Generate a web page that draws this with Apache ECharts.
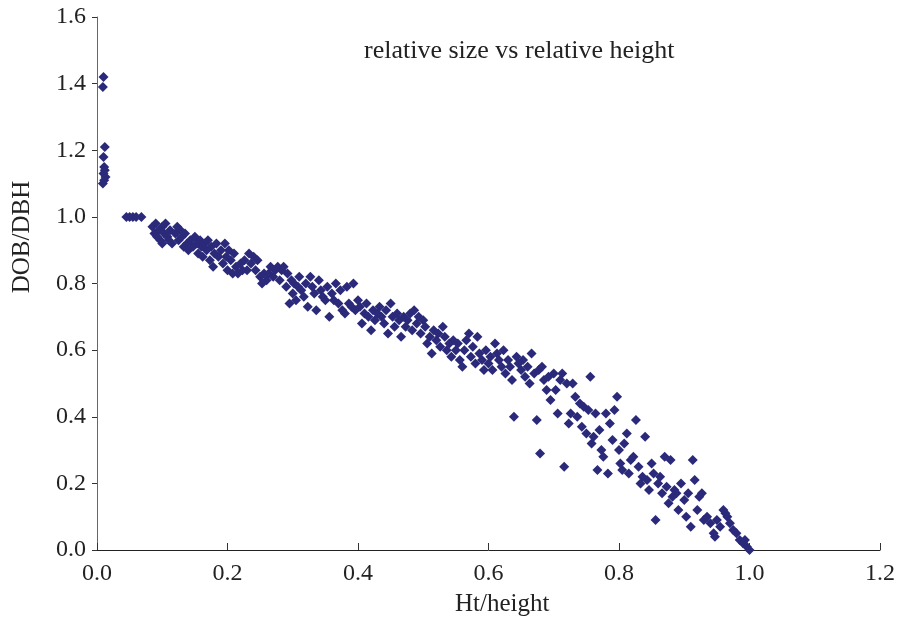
<!DOCTYPE html>
<html>
<head>
<meta charset="utf-8">
<script src="https://cdn.jsdelivr.net/npm/echarts@6/dist/echarts.min.js"></script>
<style>html,body{margin:0;padding:0;background:#fff}#c{width:904px;height:625px}</style>
</head>
<body>
<div id="c"></div>
<script>
var xTicks = [0.0, 0.2, 0.4, 0.6, 0.8, 1.0, 1.2];
var yTicks = [0.0, 0.2, 0.4, 0.6, 0.8, 1.0, 1.2, 1.4, 1.6];
var titleText = 'relative size vs relative height';
var xName = 'Ht/height';
var yName = 'DOB/DBH';

var tipPoints = [[0.010,1.42],[0.009,1.39],[0.012,1.21],[0.010,1.18],[0.011,1.15],[0.012,1.14],[0.010,1.13],[0.013,1.12],[0.011,1.11],[0.009,1.10]];
var basePoints = [[0.045,1.0],[0.05,1.0],[0.055,1.0],[0.06,1.0],[0.068,1.0]];
var lowerStem = [
[0.085,0.97],[0.088,0.95],[0.09,0.98],[0.092,0.94],[0.095,0.96],[0.097,0.93],[0.10,0.97],[0.10,0.92],[0.103,0.95],[0.105,0.98],[0.108,0.94],[0.11,0.93],[0.112,0.96],[0.115,0.92],
[0.12,0.95],[0.123,0.97],[0.125,0.93],[0.128,0.96],[0.13,0.94],[0.133,0.91],[0.135,0.95],[0.138,0.92],[0.14,0.90],[0.143,0.93],[0.147,0.91],[0.15,0.94],[0.153,0.92],[0.155,0.89],[0.158,0.93],
[0.16,0.91],[0.162,0.88],[0.165,0.92],[0.168,0.90],[0.17,0.93],[0.173,0.87],[0.175,0.91],[0.178,0.85],[0.18,0.89],[0.183,0.92],[0.186,0.88],[0.19,0.90],[0.193,0.86],[0.196,0.92],[0.198,0.88],
[0.20,0.84],[0.202,0.90],[0.205,0.87],[0.208,0.83],[0.21,0.89],[0.213,0.85],[0.216,0.83],[0.22,0.86],[0.223,0.84],[0.226,0.87],[0.23,0.84],[0.233,0.89],[0.236,0.86],[0.24,0.88],[0.243,0.84],[0.246,0.87],[0.25,0.82],[0.253,0.80],[0.256,0.83]
];
var midStem = [
[0.26,0.81],[0.263,0.83],[0.266,0.85],[0.27,0.82],[0.273,0.84],[0.277,0.85],[0.28,0.81],[0.283,0.84],[0.286,0.85],[0.29,0.79],[0.292,0.83],[0.295,0.74],[0.298,0.81],[0.30,0.77],
[0.302,0.80],[0.305,0.75],[0.308,0.79],[0.31,0.82],[0.313,0.78],[0.317,0.76],[0.32,0.80],[0.323,0.73],[0.327,0.82],[0.33,0.79],[0.333,0.77],[0.336,0.72],[0.34,0.81],[0.343,0.78],[0.346,0.76],[0.35,0.75],
[0.353,0.79],[0.356,0.70],[0.36,0.77],[0.363,0.75],[0.366,0.80],[0.37,0.74],[0.373,0.78],[0.376,0.72],[0.38,0.71],[0.383,0.79],[0.386,0.74],[0.39,0.73],[0.393,0.80],[0.396,0.72],[0.40,0.75],
[0.403,0.73],[0.406,0.68],[0.41,0.71],[0.413,0.74],[0.416,0.70],[0.42,0.66],[0.423,0.72],[0.426,0.69],[0.43,0.71],[0.433,0.73],[0.436,0.70],[0.44,0.68],[0.443,0.72],[0.446,0.65],[0.45,0.74],
[0.453,0.70],[0.456,0.67],[0.46,0.71],[0.463,0.69],[0.466,0.64],[0.47,0.70],[0.473,0.67],[0.476,0.69],[0.48,0.71],[0.483,0.66],[0.486,0.72],[0.49,0.68],[0.493,0.70],[0.496,0.65],[0.50,0.69]
];
var upperStem = [
[0.503,0.67],[0.506,0.62],[0.51,0.64],[0.513,0.59],[0.516,0.66],[0.52,0.63],[0.523,0.65],[0.526,0.61],[0.53,0.67],[0.533,0.64],[0.536,0.60],[0.54,0.62],[0.543,0.58],[0.546,0.63],[0.55,0.60],
[0.553,0.62],[0.556,0.57],[0.56,0.55],[0.563,0.60],[0.566,0.63],[0.57,0.65],[0.573,0.58],[0.576,0.61],[0.58,0.56],[0.583,0.64],[0.586,0.59],[0.59,0.57],[0.593,0.54],[0.596,0.60],[0.60,0.56],
[0.603,0.58],[0.606,0.54],[0.61,0.62],[0.613,0.59],[0.616,0.57],[0.62,0.55],[0.623,0.60],[0.626,0.53],[0.63,0.57],[0.633,0.55],[0.636,0.51],[0.639,0.40],[0.643,0.58],[0.646,0.56],[0.65,0.54],
[0.653,0.57],[0.656,0.52],[0.66,0.55],[0.663,0.50],[0.666,0.59],[0.67,0.53],[0.674,0.39],[0.677,0.54],[0.679,0.29],[0.682,0.55],[0.685,0.51],[0.689,0.48],[0.692,0.52],[0.695,0.45],[0.70,0.53]
];
var crown = [
[0.703,0.48],[0.706,0.41],[0.71,0.51],[0.713,0.53],[0.716,0.25],[0.72,0.50],[0.723,0.38],[0.726,0.41],[0.729,0.50],[0.733,0.46],[0.736,0.40],[0.74,0.44],[0.743,0.37],[0.746,0.43],[0.75,0.35],
[0.753,0.42],[0.756,0.52],[0.758,0.32],[0.761,0.34],[0.764,0.41],[0.767,0.24],[0.77,0.36],[0.773,0.30],[0.776,0.28],[0.78,0.41],[0.783,0.23],[0.786,0.38],[0.79,0.33],[0.793,0.42],[0.797,0.46],[0.80,0.30],
[0.802,0.26],[0.805,0.24],[0.808,0.32],[0.812,0.35],[0.815,0.23],[0.818,0.27],[0.822,0.28],[0.826,0.39],[0.83,0.25],[0.833,0.20],[0.836,0.22],[0.84,0.34],[0.843,0.21],[0.846,0.18],[0.85,0.26],
[0.853,0.23],[0.856,0.09],[0.86,0.20],[0.863,0.22],[0.866,0.17],[0.87,0.28],[0.873,0.19],[0.876,0.14],[0.879,0.27],[0.882,0.16],[0.885,0.18],[0.888,0.17],[0.891,0.12],[0.895,0.20],[0.90,0.15],
[0.903,0.10],[0.906,0.17],[0.91,0.07],[0.913,0.27],[0.916,0.21],[0.92,0.12],[0.923,0.16],[0.927,0.17],[0.93,0.09],[0.935,0.10],[0.94,0.08],[0.945,0.05],[0.947,0.04],
[0.95,0.09],[0.955,0.07],[0.96,0.12],[0.963,0.11],[0.966,0.10],[0.97,0.08],[0.975,0.06],[0.98,0.05],[0.985,0.03],[0.99,0.02],[0.993,0.03],[0.996,0.01],[1.0,0.0]
];

var allPoints = tipPoints.concat(basePoints, lowerStem, midStem, upperStem, crown);
var font = 'Liberation Serif, Times New Roman, serif';
var chart = echarts.init(document.getElementById('c'), null, {renderer: 'canvas'});
chart.setOption({
  animation: false,
  backgroundColor: '#ffffff',
  title: {
    text: titleText, left: 359, top: 33,
    textStyle: {fontFamily: font, fontSize: 26, fontWeight: 'normal', color: '#222'}
  },
  graphic: [
    {type: 'text', left: 455, top: 592, style: {text: xName, font: '25px ' + font, fill: '#222'}},
    {type: 'text', x: 22, y: 237, rotation: Math.PI / 2,
      style: {text: yName, font: '25px ' + font, fill: '#222', align: 'center', verticalAlign: 'middle'}}
  ],
  grid: {left: 97, right: 24, top: 17, bottom: 75, containLabel: false},
  xAxis: {
    type: 'value', min: 0, max: 1.2, interval: 0.2,
    axisLine: {show: true, onZero: false, lineStyle: {color: '#222', width: 1}},
    axisTick: {show: true, inside: true, length: 7, lineStyle: {color: '#333'}},
    axisLabel: {fontFamily: font, fontSize: 24, color: '#222', margin: 12,
      formatter: function (v) { return v.toFixed(1); }},
    splitLine: {show: false}
  },
  yAxis: {
    type: 'value', min: 0, max: 1.6, interval: 0.2,
    axisLine: {show: true, lineStyle: {color: '#666', width: 1}},
    axisTick: {show: true, inside: false, length: 5, lineStyle: {color: '#333'}},
    axisLabel: {fontFamily: font, fontSize: 24, color: '#222', margin: 11,
      formatter: function (v) { return v.toFixed(1); }},
    splitLine: {show: false}
  },
  series: [{
    type: 'scatter',
    data: allPoints,
    symbol: 'diamond',
    symbolSize: 10,
    itemStyle: {color: '#2b2a7a', opacity: 1}
  }]
});
</script>
</body>
</html>
